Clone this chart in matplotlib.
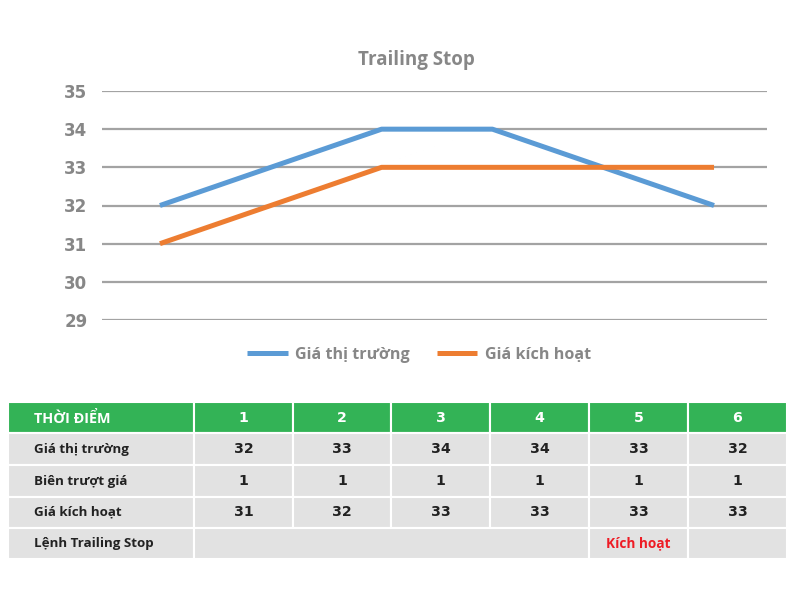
import matplotlib
matplotlib.use("Agg")
import matplotlib.pyplot as plt
from matplotlib.patches import Rectangle

# ── data ────────────────────────────────────────────────────────────────
periods = [1, 2, 3, 4, 5, 6]
market_price = [32, 33, 34, 34, 33, 32]
trail_margin = [1, 1, 1, 1, 1, 1]
trigger_price = [31, 32, 33, 33, 33, 33]
yticks = [29, 30, 31, 32, 33, 34, 35]
row_labels = ["THỜI ĐIỂM", "Giá thị trường", "Biên trượt giá", "Giá kích hoạt", "Lệnh Trailing Stop"]
order_status = ["", "", "", "", "Kích hoạt", ""]

BLUE = "#5B9BD5"
ORANGE = "#ED7D31"
GREEN = "#33B356"
CELL = "#E2E2E2"
GREY_TXT = "#878787"
GRID = "#A3A3A3"

plt.rcParams["font.family"] = ["Open Sans", "DejaVu Sans"]
NUM_FONT = ["DejaVu Sans"]   # Verdana-like digits

fig = plt.figure(figsize=(8, 6), dpi=100)

# ── line chart ──────────────────────────────────────────────────────────
ax = fig.add_axes([102 / 800, 1 - 320 / 600, (767 - 102) / 800, (320 - 91) / 600])
ax.plot(periods, market_price, color=BLUE, lw=3.6, label="Giá thị trường", solid_capstyle="butt")
ax.plot(periods, trigger_price, color=ORANGE, lw=3.6, label="Giá kích hoạt", solid_capstyle="butt")
ax.set_xlim(0.477, 6.478)
ax.set_ylim(29, 35)
ax.set_yticks(yticks)
ax.set_xticks([])
for y in yticks:
    ax.axhline(y, color=GRID, lw=1.6, zorder=0)
for s in ax.spines.values():
    s.set_visible(False)
ax.tick_params(axis="y", length=0, pad=10.5, labelsize=12, labelcolor=GREY_TXT)
for t in ax.get_yticklabels():
    t.set_fontweight("bold")
    t.set_family(NUM_FONT)

fig.text(416 / 800, 1 - 60 / 600, "Trailing Stop", ha="center", va="center",
         fontsize=13.5, fontweight="bold", color=GREY_TXT)

leg = fig.legend(loc="center", bbox_to_anchor=(419 / 800, 1 - 355 / 600), ncol=2,
                 frameon=False, fontsize=11.6, handlelength=2.5, columnspacing=1.7,
                 handletextpad=0.45)
for t in leg.get_texts():
    t.set_color(GREY_TXT)
    t.set_fontweight("bold")

# ── table under the chart (pixel coordinates) ───────────────────────────
tab = fig.add_axes([0, 0, 1, 1])
tab.set_xlim(0, 800)
tab.set_ylim(600, 0)
tab.axis("off")

col_edges = [8, 194, 293, 391, 490, 589, 688, 787]
row_edges = [402, 433, 465, 497, 528, 559]

rows = [
    [str(p) for p in periods],
    [str(v) for v in market_price],
    [str(v) for v in trail_margin],
    [str(v) for v in trigger_price],
    order_status,
]


def cell(x0, x1, y0, y1, color):
    tab.add_patch(Rectangle((x0, y0), x1 - x0, y1 - y0, facecolor=color,
                            edgecolor="white", lw=1.5))


for r, (label, values) in enumerate(zip(row_labels, rows)):
    y0, y1 = row_edges[r], row_edges[r + 1]
    yc = (y0 + y1) / 2
    bg = GREEN if r == 0 else CELL
    fg = "white" if r == 0 else "#222222"
    cell(col_edges[0], col_edges[1], y0, y1, bg)
    tab.text(34, yc + (1 if r == 0 else 0), label, ha="left", va="center",
             fontsize=10.4 if r == 0 else 9.6, fontweight="bold", color=fg)
    if r == len(row_labels) - 1:
        # last row: first four periods merged
        cell(col_edges[1], col_edges[5], y0, y1, bg)
        cell(col_edges[5], col_edges[6], y0, y1, bg)
        cell(col_edges[6], col_edges[7], y0, y1, bg)
        for c, v in enumerate(values):
            if v:
                xc = (col_edges[c + 1] + col_edges[c + 2]) / 2
                tab.text(xc, yc, v, ha="center", va="center", fontsize=9.8,
                         fontweight="bold", color="#EE1C25")
    else:
        for c, v in enumerate(values):
            x0, x1 = col_edges[c + 1], col_edges[c + 2]
            cell(x0, x1, y0, y1, bg)
            tab.text((x0 + x1) / 2, yc, v, ha="center", va="center",
                     fontsize=10.2, fontweight="bold", color=fg, family=NUM_FONT)

fig.savefig("out.png", dpi=100)
